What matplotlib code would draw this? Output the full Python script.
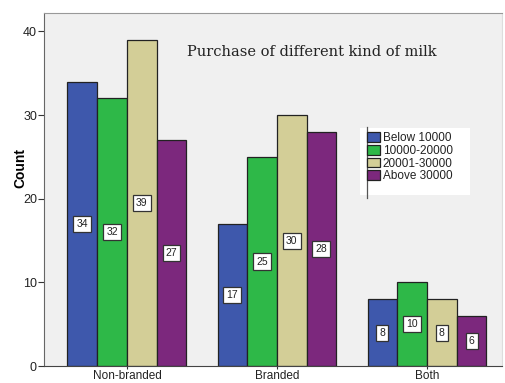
import numpy as np
import matplotlib.pyplot as plt
from matplotlib.patches import Rectangle

# data
categories = ['Non-branded', 'Branded', 'Both']
income_groups = ['Below 10000', '10000-20000', '20001-30000', 'Above 30000']
counts = {
    'Below 10000': [34, 17, 8],
    '10000-20000': [32, 25, 10],
    '20001-30000': [39, 30, 8],
    'Above 30000': [27, 28, 6],
}
colors = ['#3e58ac', '#2eb848', '#d3ce97', '#7c287d']

plt.rcParams['font.family'] = ['Liberation Sans', 'DejaVu Sans']

fig = plt.figure(figsize=(5.05, 3.83), dpi=100)
ax = fig.add_axes([0.087, 0.044, 0.907, 0.922])
ax.set_facecolor('#f0f0f0')

x = np.arange(len(categories))
w = 0.198
for i, grp in enumerate(income_groups):
    pos = x + (i - 1.5) * w
    vals = counts[grp]
    ax.bar(pos, vals, width=w, color=colors[i], edgecolor='#222222',
           linewidth=0.9, label=grp, zorder=2)
    for px, v in zip(pos, vals):
        ax.text(px, v / 2, str(v), ha='center', va='center', fontsize=7.5,
                color='#222222', zorder=3,
                bbox=dict(boxstyle='square,pad=0.3', fc='white',
                          ec='#333333', lw=0.9))

ax.set_xlim(-0.553, 2.5)
ax.set_ylim(0, 42.2)
ax.set_yticks([0, 10, 20, 30, 40])
ax.set_xticks(x)
ax.set_xticklabels(categories, fontsize=8.5, color='#222222')
ax.tick_params(axis='y', labelsize=9, labelcolor='#222222', length=4,
               color='#333333', pad=1)
ax.tick_params(axis='x', length=4, direction='inout', color='#333333', pad=1)
ax.set_ylabel('Count', fontsize=10, fontweight='bold')
ax.yaxis.set_label_coords(-0.037, 0.56)

ax.spines['top'].set_color('#999999')
ax.spines['right'].set_color('#dddddd')
ax.spines['left'].set_color('#666666')
ax.spines['bottom'].set_color('#444444')

ax.text(0.312, 0.89, 'Purchase of different kind of milk', transform=ax.transAxes,
        fontsize=10.5, family='DejaVu Serif', ha='left', va='center',
        color='#222222')

# white legend panel with a thin line on its left
ax.add_patch(Rectangle((0.69, 0.484), 0.24, 0.19, transform=ax.transAxes,
                       fc='white', ec='none', zorder=4))
ax.plot([0.705, 0.705], [0.476, 0.676], transform=ax.transAxes,
        color='#555555', lw=0.9, zorder=5)

leg = ax.legend(loc='upper left', bbox_to_anchor=(0.706, 0.662), fontsize=8.5,
                frameon=False, handlelength=1.1, handleheight=0.9,
                handletextpad=0.2, labelspacing=0.05, borderpad=0,
                borderaxespad=0)
leg.set_zorder(6)
for t in leg.get_texts():
    t.set_color('#222222')

fig.savefig('out.png', dpi=100)
